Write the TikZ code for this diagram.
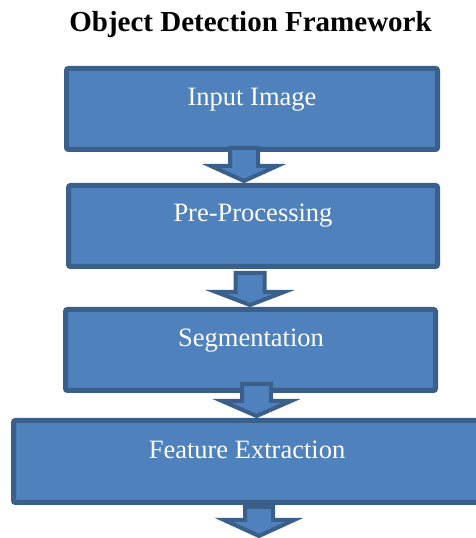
\documentclass[tikz,border=0pt]{standalone}
\usepackage{fontspec}
\setmainfont{Liberation Serif}
\definecolor{boxfill}{HTML}{4F81BD}
\definecolor{boxline}{HTML}{3A5F8B}
\tikzset{
  flowbox/.style={draw=boxline, fill=boxfill, line width=5pt, rounded corners=2pt, inner sep=0pt},
  boxtext/.style={anchor=base, text=white, inner sep=0pt, font=\fontsize{26.5}{30}\selectfont},
  blockarrow/.style={draw=boxline, fill=boxfill, line width=4pt, line join=miter}
}
\newcommand\myblockarrow[6]{% cx, shaft half, head half, top, base, tip
  \draw[blockarrow] (#1-#2,#4) -- (#1+#2,#4) -- (#1+#2,#5) -- (#1+#3,#5) -- (#1,#6)
     -- (#1-#3,#5) -- (#1-#2,#5) -- cycle;}
\begin{document}
\begin{tikzpicture}[x=1pt,y=1pt]
\useasboundingbox (0,0) rectangle (475,538);
\node[anchor=base, inner sep=0pt, font=\bfseries\fontsize{29}{32}\selectfont] (title) at (250.5,506) {Object Detection Framework};
\node[flowbox, minimum width=371pt, minimum height=81pt] (b1) at (252,429) {};
\node[flowbox, minimum width=369pt, minimum height=81pt] (b2) at (253,312) {};
\node[flowbox, minimum width=370pt, minimum height=81pt] (b3) at (250.5,188) {};
\node[flowbox, minimum width=474pt, minimum height=82pt] (b4) at (250.5,76.5) {};
\node[boxtext] (t1) at (252,432) {Input Image};
\node[boxtext] (t2) at (253,316) {Pre-Processing};
\node[boxtext] (t3) at (251,191) {Segmentation};
\node[boxtext] (t4) at (247,79) {Feature Extraction};
\myblockarrow{244}{14}{33}{390}{372}{357}
\myblockarrow{250}{14.5}{34}{265}{246}{233}
\myblockarrow{256.5}{14.5}{34.5}{154}{137}{122}
\myblockarrow{259}{14}{35}{31}{18}{2}
\end{tikzpicture}
\end{document}
